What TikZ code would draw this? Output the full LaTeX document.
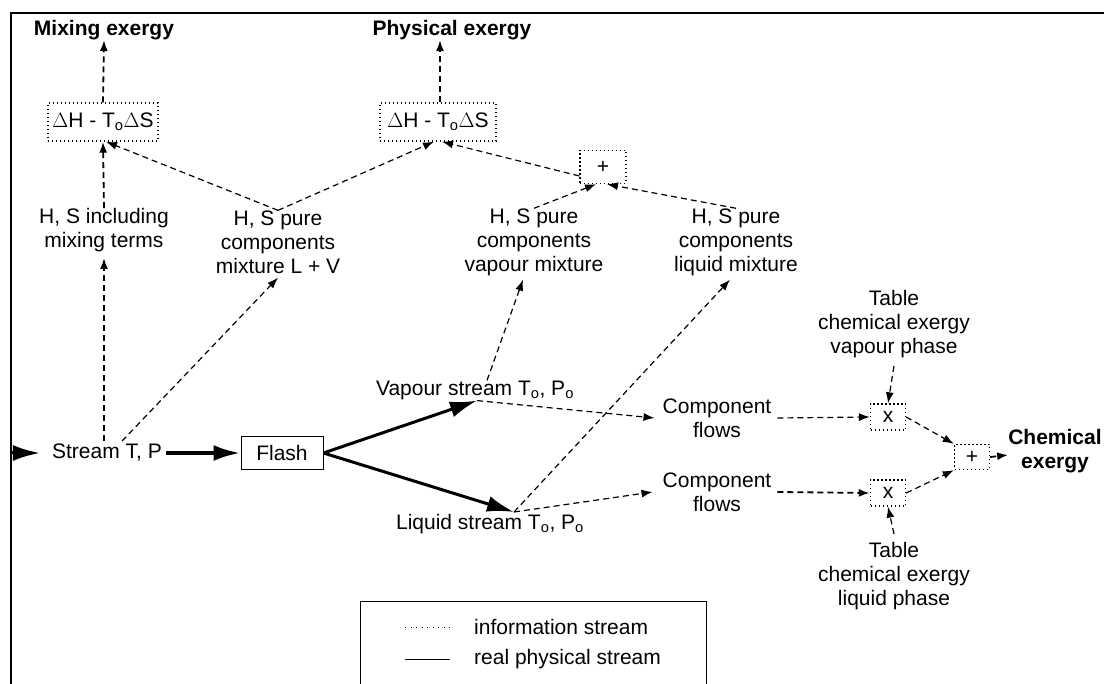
\documentclass[tikz,border=0pt]{standalone}
\usepackage{fontspec}
\setmainfont{Liberation Sans}
\usetikzlibrary{arrows.meta,calc}

\begin{document}
\begin{tikzpicture}[x=1pt,y=-1pt,
  every node/.style={font=\fontsize{21}{24}\selectfont, align=center, inner sep=0pt},
  title/.style={font=\fontsize{21}{24}\selectfont\bfseries},
  opbox/.style={draw, line width=1.4pt, dash pattern=on 1.4pt off 2.6pt},
  info/.style={line width=1.2pt, dash pattern=on 6pt off 4pt,
    -{Latex[length=11pt,width=8pt]}},
  infothick/.style={info, line width=1.8pt},
  phys/.style={line width=3pt, -{Latex[length=27pt,width=16pt]}},
]
\useasboundingbox (0,0) rectangle (1104,684);

% frame
\draw[line width=1.8pt] (11,684) |- (1104,13);

% outputs
\node[title] (mixT) at (104,30) {Mixing exergy};
\node[title] (phyT) at (452,30) {Physical exergy};

% operation boxes
\node[opbox, minimum width=110, minimum height=38] (dh1) at (103,122) {$\Delta$H - T\textsubscript{o}$\Delta$S};
\node[opbox, minimum width=116, minimum height=38] (dh2) at (438,122) {$\Delta$H - T\textsubscript{o}$\Delta$S};
\node[opbox, minimum width=46, minimum height=33] (sum1) at (603,167) {+};

% property calculations
\node (hsmix) at (104,230) {H, S including\\mixing terms};
\node (hslv) at (278,242) {H, S pure\\components\\mixture L + V};
\node (hsvap) at (534,242) {H, S pure\\components\\vapour mixture};
\node (hsliq) at (736,242) {H, S pure\\components\\liquid mixture};
\node (tabv) at (894,324) {Table\\chemical exergy\\vapour phase};

% physical streams
\node (stream) at (107,453) {Stream T, P};
\node[draw, line width=1pt, minimum width=82, minimum height=33] (flash) at (282,453) {Flash};
\node (vap) at (475,390) {Vapour stream T\textsubscript{o}, P\textsubscript{o}};
\node (liq) at (490,524) {Liquid stream T\textsubscript{o}, P\textsubscript{o}};

% chemical exergy branch
\node (cf1) at (717,418) {Component\\flows};
\node (cf2) at (717,492) {Component\\flows};
\node[opbox, minimum width=35, minimum height=26] (mul1) at (888,417) {x};
\node[opbox, minimum width=35, minimum height=26] (mul2) at (888,493) {x};
\node[opbox, minimum width=35, minimum height=25] (sum2) at (972,457) {+};
\node[title] (chem) at (1055,451) {Chemical\\exergy};
\node (tabl) at (894,576) {Table\\chemical exergy\\liquid phase};

\coordinate (entry) at (11,453);
\coordinate (vtip) at ($(vap.south)+(2,1)$);
\coordinate (ltip) at ($(liq.north)+(24,-2)$);

% real physical streams
\draw[phys, shorten >=12pt] (entry) -- (stream.west);
\draw[phys, line width=4pt] ($(stream.east)+(4,0)$) -- (flash.west);
\draw[phys] (flash.east) -- (vtip);
\draw[phys] (flash.east) -- (ltip);

% information streams
\draw[infothick] ($(hsmix |- stream.north)+(0,-3)$) -- ($(hsmix.south)+(0,6)$);
\draw[infothick] (hsmix.north) -- (dh1.south);
\draw[infothick] (dh1.north) -- (mixT.south);
\draw[info] ($(stream.north)+(15,-3)$) -- ($(hslv.south)+(0,4)$);
\draw[info] (hslv.north) -- ($(dh1.south)+(3,0)$);
\draw[info] (hslv.north) -- ($(dh2.south)+(-4,0)$);
\draw[info] ($(sum1.west)+(0,9)$) -- ($(dh2.south)+(4,0)$);
\draw[infothick] ($(dh2.north)+(2,0)$) -- ($(phyT.south)+(-12,0)$);
\draw[info] ($(vap.north)+(12,0)$) -- ($(hsvap.south)+(-11,4)$);
\draw[info] (hsvap.north) -- ($(sum1.south)+(-7,0)$);
\draw[info] (hsliq.north) -- ($(sum1.south)+(4,0)$);
\draw[info] (ltip) -- ($(hsliq.south)+(-6,4)$);
\draw[info] (vtip) -- ($(cf1.west)+(-8,0)$);
\draw[info] (ltip) -- ($(cf2.west)+(-10,0)$);
\draw[info] ($(cf1.east)+(6,0)$) -- (mul1.west);
\draw[infothick] ($(cf2.east)+(6,0)$) -- (mul2.west);
\draw[info] ($(tabv.south)+(0,8)$) -- (mul1.north);
\draw[info] ($(tabl.north)+(0,-8)$) -- (mul2.south);
\draw[info] (mul1.east) -- (sum2.north west);
\draw[info] (mul2.east) -- (sum2.south west);
\draw[infothick] (sum2.east) -- ($(chem.west)+(0,4)$);

% legend
\draw[line width=0.8pt] (360,684) |- (706,601) -- (706,684);
\coordinate (ld1) at (405,627);
\coordinate (ld2) at (450,627);
\coordinate (ls1) at (405,659);
\coordinate (ls2) at (450,659);
\draw[line width=1pt, dash pattern=on 1pt off 4.5pt] (ld1) -- (ld2);
\draw[line width=1pt] (ls1) -- (ls2);
\node[anchor=west] (leg1) at (474,627) {information stream};
\node[anchor=west] (leg2) at (474,659) {real physical stream};
\end{tikzpicture}
\end{document}
